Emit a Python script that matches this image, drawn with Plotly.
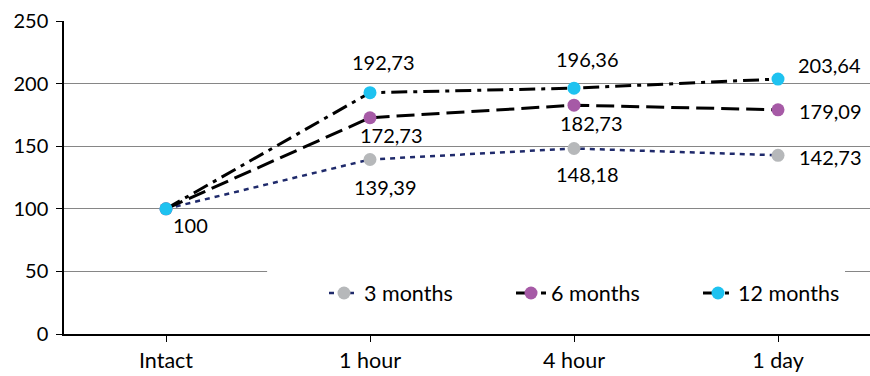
import plotly.graph_objects as go

categories = ["Intact", "1 hour", "4 hour", "1 day"]
series_names = ["3 months", "6 months", "12 months"]
values_3m = [100, 139.39, 148.18, 142.73]
values_6m = [100, 172.73, 182.73, 179.09]
values_12m = [100, 192.73, 196.36, 203.64]
labels_3m = ["", "139,39", "148,18", "142,73"]
labels_6m = ["", "172,73", "182,73", "179,09"]
labels_12m = ["100", "192,73", "196,36", "203,64"]

# label offsets (px) relative to each point: (xshift, yshift)
off_3m = [(0, 0), (15, -28), (13, -26), (52, -2)]
off_6m = [(0, 0), (21, -17), (17, -18), (52, -1)]
off_12m = [(24, -16), (13, 31), (13, 29), (51, 14)]

FONT = "Lato"
FS_NUM = 20
FS_TXT = 21.5
x = list(range(len(categories)))

fig = go.Figure()
specs = [
    (values_3m, labels_3m, off_3m, "#1F2A6B", "5px,5px", 2.5, "#B6B8BA", series_names[0]),
    (values_6m, labels_6m, off_6m, "#000000", "18px,7px", 3, "#A65AA6", series_names[1]),
    (values_12m, labels_12m, off_12m, "#000000", "16px,6px,4px,6px", 3, "#1EC2F0", series_names[2]),
]
for vals, labs, offs, lc, dash, lw, mc, name in specs:
    fig.add_trace(go.Scatter(
        x=x, y=vals, name=name, mode="lines+markers",
        line=dict(color=lc, dash=dash, width=lw),
        marker=dict(color=mc, size=13),
        cliponaxis=False,
    ))
    for xi, v, lab, (dx, dy) in zip(x, vals, labs, offs):
        if lab:
            fig.add_annotation(
                x=xi, y=v, text=lab, showarrow=False,
                xshift=dx, yshift=dy, xanchor="center", yanchor="middle",
                font=dict(family=FONT, size=FS_NUM, color="#000000"),
            )

# white background box behind the legend (covers the 50 gridline)
fig.add_shape(type="rect", xref="paper", yref="paper",
              x0=0.252, x1=0.969, y0=0.04, y1=0.225,
              fillcolor="white", line=dict(width=0), layer="above")

fig.update_layout(
    width=870, height=376,
    margin=dict(l=64, r=0, t=21, b=42, autoexpand=False),
    paper_bgcolor="white", plot_bgcolor="white",
    font=dict(family=FONT, size=FS_TXT, color="#000000"),
    showlegend=True,
    legend=dict(
        orientation="h", x=0.3226, y=0.131, xanchor="left", yanchor="middle",
        bgcolor="rgba(0,0,0,0)", font=dict(family=FONT, size=FS_TXT),
        entrywidth=142, traceorder="normal",
    ),
    xaxis=dict(
        range=[-0.5, 3.5 - 10 / 204], tickmode="array", tickvals=x, ticktext=categories,
        tickfont=dict(family=FONT, size=FS_TXT),
        showgrid=False, showline=True, linecolor="#000000", linewidth=1.5,
        ticks="outside", ticklen=6, tickcolor="#000000", tickson="boundaries",
        zeroline=False, fixedrange=True, automargin=False,
    ),
    yaxis=dict(
        range=[0, 250], tickmode="array", tickvals=[0, 50, 100, 150, 200, 250],
        tickfont=dict(family=FONT, size=FS_NUM),
        showgrid=True, gridcolor="#868686", gridwidth=1,
        showline=True, linecolor="#000000", linewidth=1.5,
        ticks="outside", ticklen=6, tickcolor="#000000", ticklabelstandoff=4,
        zeroline=False, fixedrange=True, automargin=False,
    ),
)

fig.write_html("out.html", config={"displayModeBar": False},
               post_script="document.body.style.margin='0';")
